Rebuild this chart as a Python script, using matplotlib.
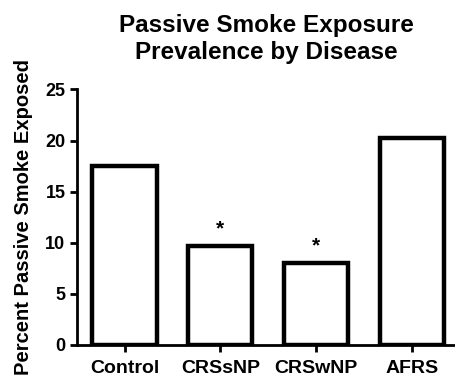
import matplotlib
matplotlib.use("Agg")
import matplotlib.pyplot as plt

categories = ["Control", "CRSsNP", "CRSwNP", "AFRS"]
values = [17.5, 9.7, 8.05, 20.2]
significant = [False, True, True, False]
yticks = [0, 5, 10, 15, 20, 25]

plt.rcParams['font.family'] = ['Liberation Sans', 'DejaVu Sans']

fig = plt.figure(figsize=(4.56, 3.77), dpi=100)
ax = fig.add_axes([0.168, 0.0849, 0.832, 0.678])

x = list(range(len(categories)))
ax.bar(x, values, width=0.67, color='white', edgecolor='black', linewidth=3.2, zorder=2)
for xi, v, s in zip(x, values, significant):
    if s:
        ax.text(xi, v + 1.1, '*', ha='center', va='baseline', fontsize=15, fontweight='bold')

ax.set_xlim(-0.5, 3.46)
ax.set_ylim(0, 25)
ax.set_yticks(yticks)
ax.set_xticks(x)
ax.set_xticklabels(categories, fontsize=14, fontweight='bold')
ax.set_yticklabels([str(t) for t in yticks], fontsize=13, fontweight='bold')
for sp in ['top', 'right']:
    ax.spines[sp].set_visible(False)
for sp in ['left', 'bottom']:
    ax.spines[sp].set_linewidth(2)
ax.tick_params(axis='both', width=2, length=5, direction='out')
ax.tick_params(axis='x', pad=6)
ax.tick_params(axis='y', pad=3)
ax.set_ylabel('Percent Passive Smoke Exposed', fontsize=14.5, fontweight='bold')
ax.yaxis.set_label_coords(-0.115, 0.5)
ax.set_title('Passive Smoke Exposure\nPrevalence by Disease', fontsize=17.5, fontweight='bold', pad=22)

fig.savefig('out.png', dpi=100)
